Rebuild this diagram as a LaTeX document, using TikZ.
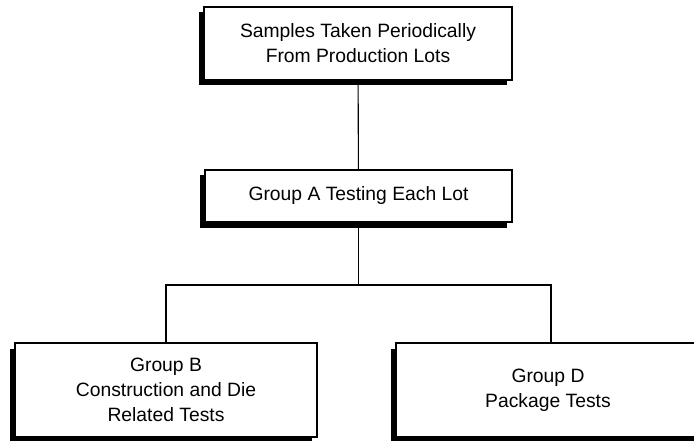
\documentclass[tikz,border=0pt]{standalone}
\usepackage{fontspec}
\setmainfont{Liberation Sans}
\usetikzlibrary{shadows}
\begin{document}
\begin{tikzpicture}[x=1pt,y=-1pt,
  sbox/.style={draw, fill=white, line width=1.3pt, align=center,
    font=\fontsize{19.3}{24.8}\selectfont, inner sep=0pt,
    drop shadow={shadow xshift=-5.5pt, shadow yshift=-5.5pt, opacity=1, fill=black}},
  conn/.style={line width=1.1pt}]
\useasboundingbox (0,0) rectangle (694,441);
\fill[white] (0,0) rectangle (694,441);
\node[sbox, minimum width=308pt, minimum height=73pt] (top) at (358,43.5)
  {Samples Taken Periodically\\From Production Lots};
\node[sbox, minimum width=307pt, minimum height=52pt] (A) at (358.5,196)
  {Group A Testing Each Lot};
\node[sbox, minimum width=302pt, minimum height=94pt] (B) at (166,390)
  {Group B\\Construction and Die\\Related Tests};
\node[sbox, minimum width=304pt, minimum height=94pt] (D) at (548,390)
  {Group D\\Package Tests};
\coordinate (j) at (358.5,285);
\draw[conn] (top) -- (A);
\draw[conn] (A) -- (j);
\draw[conn] (B.north) |- (j);
\draw[conn] (j) -| ([xshift=3pt]D.north);
\end{tikzpicture}
\end{document}
